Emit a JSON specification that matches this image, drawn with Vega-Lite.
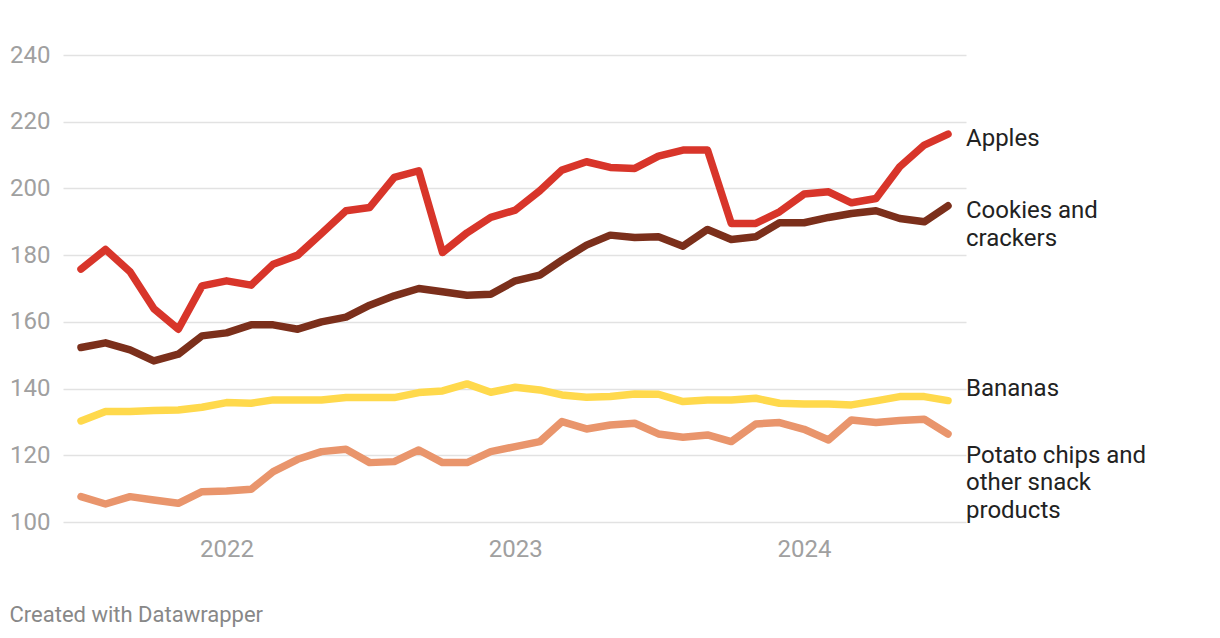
{
  "$schema": "https://vega.github.io/schema/vega-lite/v6.json",
  "width": 903,
  "height": 467,
  "autosize": {"type": "none"},
  "padding": {"left": 63, "top": 55, "right": 254, "bottom": 116},
  "background": "white",
  "config": {"font": "Roboto", "view": {"stroke": null}},
  "title": {"text": "Created with Datawrapper", "orient": "bottom", "anchor": "start", "frame": "bounds", "fontSize": 22, "fontWeight": "normal", "color": "#888888", "offset": 44},
  "data": {"values": [
    {"date": "2021-07-01", "series": "Apples", "value": 175.8},
    {"date": "2021-08-01", "series": "Apples", "value": 181.7},
    {"date": "2021-09-01", "series": "Apples", "value": 175.0},
    {"date": "2021-10-01", "series": "Apples", "value": 164.0},
    {"date": "2021-11-01", "series": "Apples", "value": 157.8},
    {"date": "2021-12-01", "series": "Apples", "value": 170.8},
    {"date": "2022-01-01", "series": "Apples", "value": 172.3},
    {"date": "2022-02-01", "series": "Apples", "value": 171.0},
    {"date": "2022-03-01", "series": "Apples", "value": 177.3},
    {"date": "2022-04-01", "series": "Apples", "value": 180.0},
    {"date": "2022-05-01", "series": "Apples", "value": 186.5},
    {"date": "2022-06-01", "series": "Apples", "value": 193.3},
    {"date": "2022-07-01", "series": "Apples", "value": 194.3},
    {"date": "2022-08-01", "series": "Apples", "value": 203.3},
    {"date": "2022-09-01", "series": "Apples", "value": 205.3},
    {"date": "2022-10-01", "series": "Apples", "value": 180.8},
    {"date": "2022-11-01", "series": "Apples", "value": 186.7},
    {"date": "2022-12-01", "series": "Apples", "value": 191.3},
    {"date": "2023-01-01", "series": "Apples", "value": 193.5},
    {"date": "2023-02-01", "series": "Apples", "value": 199.3},
    {"date": "2023-03-01", "series": "Apples", "value": 205.5},
    {"date": "2023-04-01", "series": "Apples", "value": 208.0},
    {"date": "2023-05-01", "series": "Apples", "value": 206.3},
    {"date": "2023-06-01", "series": "Apples", "value": 206.0},
    {"date": "2023-07-01", "series": "Apples", "value": 209.7},
    {"date": "2023-08-01", "series": "Apples", "value": 211.5},
    {"date": "2023-09-01", "series": "Apples", "value": 211.5},
    {"date": "2023-10-01", "series": "Apples", "value": 189.5},
    {"date": "2023-11-01", "series": "Apples", "value": 189.5},
    {"date": "2023-12-01", "series": "Apples", "value": 193.0},
    {"date": "2024-01-01", "series": "Apples", "value": 198.3},
    {"date": "2024-02-01", "series": "Apples", "value": 199.0},
    {"date": "2024-03-01", "series": "Apples", "value": 195.7},
    {"date": "2024-04-01", "series": "Apples", "value": 197.0},
    {"date": "2024-05-01", "series": "Apples", "value": 206.5},
    {"date": "2024-06-01", "series": "Apples", "value": 213.0},
    {"date": "2024-07-01", "series": "Apples", "value": 216.3},
    {"date": "2021-07-01", "series": "Cookies", "value": 152.3},
    {"date": "2021-08-01", "series": "Cookies", "value": 153.7},
    {"date": "2021-09-01", "series": "Cookies", "value": 151.6},
    {"date": "2021-10-01", "series": "Cookies", "value": 148.3},
    {"date": "2021-11-01", "series": "Cookies", "value": 150.3},
    {"date": "2021-12-01", "series": "Cookies", "value": 155.8},
    {"date": "2022-01-01", "series": "Cookies", "value": 156.7},
    {"date": "2022-02-01", "series": "Cookies", "value": 159.1},
    {"date": "2022-03-01", "series": "Cookies", "value": 159.1},
    {"date": "2022-04-01", "series": "Cookies", "value": 157.8},
    {"date": "2022-05-01", "series": "Cookies", "value": 160.0},
    {"date": "2022-06-01", "series": "Cookies", "value": 161.4},
    {"date": "2022-07-01", "series": "Cookies", "value": 165.0},
    {"date": "2022-08-01", "series": "Cookies", "value": 167.8},
    {"date": "2022-09-01", "series": "Cookies", "value": 170.0},
    {"date": "2022-10-01", "series": "Cookies", "value": 169.0},
    {"date": "2022-11-01", "series": "Cookies", "value": 168.0},
    {"date": "2022-12-01", "series": "Cookies", "value": 168.3},
    {"date": "2023-01-01", "series": "Cookies", "value": 172.3},
    {"date": "2023-02-01", "series": "Cookies", "value": 174.0},
    {"date": "2023-03-01", "series": "Cookies", "value": 178.5},
    {"date": "2023-04-01", "series": "Cookies", "value": 183.0},
    {"date": "2023-05-01", "series": "Cookies", "value": 186.0},
    {"date": "2023-06-01", "series": "Cookies", "value": 185.3},
    {"date": "2023-07-01", "series": "Cookies", "value": 185.5},
    {"date": "2023-08-01", "series": "Cookies", "value": 182.7},
    {"date": "2023-09-01", "series": "Cookies", "value": 187.7},
    {"date": "2023-10-01", "series": "Cookies", "value": 184.7},
    {"date": "2023-11-01", "series": "Cookies", "value": 185.5},
    {"date": "2023-12-01", "series": "Cookies", "value": 189.7},
    {"date": "2024-01-01", "series": "Cookies", "value": 189.7},
    {"date": "2024-02-01", "series": "Cookies", "value": 191.3},
    {"date": "2024-03-01", "series": "Cookies", "value": 192.5},
    {"date": "2024-04-01", "series": "Cookies", "value": 193.3},
    {"date": "2024-05-01", "series": "Cookies", "value": 191.0},
    {"date": "2024-06-01", "series": "Cookies", "value": 190.0},
    {"date": "2024-07-01", "series": "Cookies", "value": 194.8},
    {"date": "2021-07-01", "series": "Bananas", "value": 130.3},
    {"date": "2021-08-01", "series": "Bananas", "value": 133.1},
    {"date": "2021-09-01", "series": "Bananas", "value": 133.1},
    {"date": "2021-10-01", "series": "Bananas", "value": 133.4},
    {"date": "2021-11-01", "series": "Bananas", "value": 133.6},
    {"date": "2021-12-01", "series": "Bananas", "value": 134.4},
    {"date": "2022-01-01", "series": "Bananas", "value": 135.8},
    {"date": "2022-02-01", "series": "Bananas", "value": 135.6},
    {"date": "2022-03-01", "series": "Bananas", "value": 136.6},
    {"date": "2022-04-01", "series": "Bananas", "value": 136.6},
    {"date": "2022-05-01", "series": "Bananas", "value": 136.6},
    {"date": "2022-06-01", "series": "Bananas", "value": 137.3},
    {"date": "2022-07-01", "series": "Bananas", "value": 137.3},
    {"date": "2022-08-01", "series": "Bananas", "value": 137.3},
    {"date": "2022-09-01", "series": "Bananas", "value": 138.8},
    {"date": "2022-10-01", "series": "Bananas", "value": 139.3},
    {"date": "2022-11-01", "series": "Bananas", "value": 141.4},
    {"date": "2022-12-01", "series": "Bananas", "value": 138.9},
    {"date": "2023-01-01", "series": "Bananas", "value": 140.4},
    {"date": "2023-02-01", "series": "Bananas", "value": 139.6},
    {"date": "2023-03-01", "series": "Bananas", "value": 138.1},
    {"date": "2023-04-01", "series": "Bananas", "value": 137.4},
    {"date": "2023-05-01", "series": "Bananas", "value": 137.6},
    {"date": "2023-06-01", "series": "Bananas", "value": 138.4},
    {"date": "2023-07-01", "series": "Bananas", "value": 138.3},
    {"date": "2023-08-01", "series": "Bananas", "value": 136.1},
    {"date": "2023-09-01", "series": "Bananas", "value": 136.6},
    {"date": "2023-10-01", "series": "Bananas", "value": 136.6},
    {"date": "2023-11-01", "series": "Bananas", "value": 137.1},
    {"date": "2023-12-01", "series": "Bananas", "value": 135.6},
    {"date": "2024-01-01", "series": "Bananas", "value": 135.4},
    {"date": "2024-02-01", "series": "Bananas", "value": 135.4},
    {"date": "2024-03-01", "series": "Bananas", "value": 135.1},
    {"date": "2024-04-01", "series": "Bananas", "value": 136.3},
    {"date": "2024-05-01", "series": "Bananas", "value": 137.6},
    {"date": "2024-06-01", "series": "Bananas", "value": 137.6},
    {"date": "2024-07-01", "series": "Bananas", "value": 136.4},
    {"date": "2021-07-01", "series": "Chips", "value": 107.6},
    {"date": "2021-08-01", "series": "Chips", "value": 105.4},
    {"date": "2021-09-01", "series": "Chips", "value": 107.6},
    {"date": "2021-10-01", "series": "Chips", "value": 106.6},
    {"date": "2021-11-01", "series": "Chips", "value": 105.6},
    {"date": "2021-12-01", "series": "Chips", "value": 109.1},
    {"date": "2022-01-01", "series": "Chips", "value": 109.3},
    {"date": "2022-02-01", "series": "Chips", "value": 109.8},
    {"date": "2022-03-01", "series": "Chips", "value": 115.1},
    {"date": "2022-04-01", "series": "Chips", "value": 118.8},
    {"date": "2022-05-01", "series": "Chips", "value": 121.1},
    {"date": "2022-06-01", "series": "Chips", "value": 121.8},
    {"date": "2022-07-01", "series": "Chips", "value": 117.8},
    {"date": "2022-08-01", "series": "Chips", "value": 118.1},
    {"date": "2022-09-01", "series": "Chips", "value": 121.6},
    {"date": "2022-10-01", "series": "Chips", "value": 117.8},
    {"date": "2022-11-01", "series": "Chips", "value": 117.8},
    {"date": "2022-12-01", "series": "Chips", "value": 121.1},
    {"date": "2023-01-01", "series": "Chips", "value": 122.6},
    {"date": "2023-02-01", "series": "Chips", "value": 124.1},
    {"date": "2023-03-01", "series": "Chips", "value": 130.1},
    {"date": "2023-04-01", "series": "Chips", "value": 127.9},
    {"date": "2023-05-01", "series": "Chips", "value": 129.1},
    {"date": "2023-06-01", "series": "Chips", "value": 129.6},
    {"date": "2023-07-01", "series": "Chips", "value": 126.4},
    {"date": "2023-08-01", "series": "Chips", "value": 125.4},
    {"date": "2023-09-01", "series": "Chips", "value": 126.1},
    {"date": "2023-10-01", "series": "Chips", "value": 124.1},
    {"date": "2023-11-01", "series": "Chips", "value": 129.4},
    {"date": "2023-12-01", "series": "Chips", "value": 129.8},
    {"date": "2024-01-01", "series": "Chips", "value": 127.8},
    {"date": "2024-02-01", "series": "Chips", "value": 124.6},
    {"date": "2024-03-01", "series": "Chips", "value": 130.6},
    {"date": "2024-04-01", "series": "Chips", "value": 129.8},
    {"date": "2024-05-01", "series": "Chips", "value": 130.4},
    {"date": "2024-06-01", "series": "Chips", "value": 130.8},
    {"date": "2024-07-01", "series": "Chips", "value": 126.4}
  ]},
  "encoding": {
    "x": {"field": "date", "type": "temporal",
      "scale": {"type": "utc", "domain": [{"year": 2021, "month": 6, "date": 8, "hours": 6, "utc": true}, {"year": 2024, "month": 7, "date": 23, "hours": 18, "utc": true}]},
      "axis": {"title": null, "format": "%Y", "formatType": "utc", "values": [{"year": 2022, "month": 1, "date": 1, "utc": true}, {"year": 2023, "month": 1, "date": 1, "utc": true}, {"year": 2024, "month": 1, "date": 1, "utc": true}], "domain": false, "ticks": false, "grid": false, "labelFontSize": 24, "labelColor": "#a0a0a0", "labelPadding": 15}},
    "y": {"field": "value", "type": "quantitative",
      "scale": {"domain": [100, 240], "nice": false, "zero": false},
      "axis": {"title": null, "values": [100, 120, 140, 160, 180, 200, 220, 240], "domain": false, "ticks": false, "grid": true, "gridColor": "#e2e2e2", "gridWidth": 1.3, "labelFontSize": 24, "labelColor": "#a0a0a0", "labelPadding": 13}}
  },
  "layer": [
    {"mark": {"type": "line", "strokeWidth": 7.5, "strokeCap": "round", "strokeJoin": "round"},
     "encoding": {"color": {"field": "series", "type": "nominal", "scale": {"domain": ["Apples", "Cookies", "Bananas", "Chips"], "range": ["#d8352a", "#7b2f1b", "#ffd94c", "#e9956c"]}, "legend": null}}},
    {"transform": [{"filter": "datum.series === 'Apples' && utcyear(datum.date) === 2024 && utcmonth(datum.date) === 6"}],
     "mark": {"type": "text", "align": "left", "baseline": "alphabetic", "dx": 18, "dy": 12, "fontSize": 24, "color": "#222222"},
     "encoding": {"text": {"value": "Apples"}}},
    {"transform": [{"filter": "datum.series === 'Cookies' && utcyear(datum.date) === 2024 && utcmonth(datum.date) === 6"}],
     "mark": {"type": "text", "align": "left", "baseline": "alphabetic", "dx": 18, "dy": 12.6, "fontSize": 24, "lineHeight": 28, "color": "#222222"},
     "encoding": {"text": {"value": ["Cookies and", "crackers"]}}},
    {"transform": [{"filter": "datum.series === 'Bananas' && utcyear(datum.date) === 2024 && utcmonth(datum.date) === 6"}],
     "mark": {"type": "text", "align": "left", "baseline": "alphabetic", "dx": 18, "dy": -4.7, "fontSize": 24, "color": "#222222"},
     "encoding": {"text": {"value": "Bananas"}}},
    {"transform": [{"filter": "datum.series === 'Chips' && utcyear(datum.date) === 2024 && utcmonth(datum.date) === 6"}],
     "mark": {"type": "text", "align": "left", "baseline": "alphabetic", "dx": 18, "dy": 28.7, "fontSize": 24, "lineHeight": 27.5, "color": "#222222"},
     "encoding": {"text": {"value": ["Potato chips and", "other snack", "products"]}}},
    {"data": {"values": [{"k": 1}]},
     "mark": {"type": "rule", "color": "#ffd94c", "strokeWidth": 2, "strokeDash": [3, 3]},
     "encoding": {
       "x": {"datum": {"year": 2024, "month": 7, "date": 5, "hours": 16, "utc": true}, "type": "temporal"},
       "x2": {"datum": {"year": 2024, "month": 7, "date": 15, "hours": 8, "utc": true}},
       "y": {"datum": 138.1, "type": "quantitative"},
       "y2": {"datum": 140.8}}},
    {"data": {"values": [{"k": 1}]},
     "mark": {"type": "rule", "color": "#e9956c", "strokeWidth": 2, "strokeDash": [3, 3]},
     "encoding": {
       "x": {"datum": {"year": 2024, "month": 7, "date": 5, "hours": 16, "utc": true}, "type": "temporal"},
       "x2": {"datum": {"year": 2024, "month": 7, "date": 15, "hours": 8, "utc": true}},
       "y": {"datum": 124.6, "type": "quantitative"},
       "y2": {"datum": 121.6}}}
  ]
}
